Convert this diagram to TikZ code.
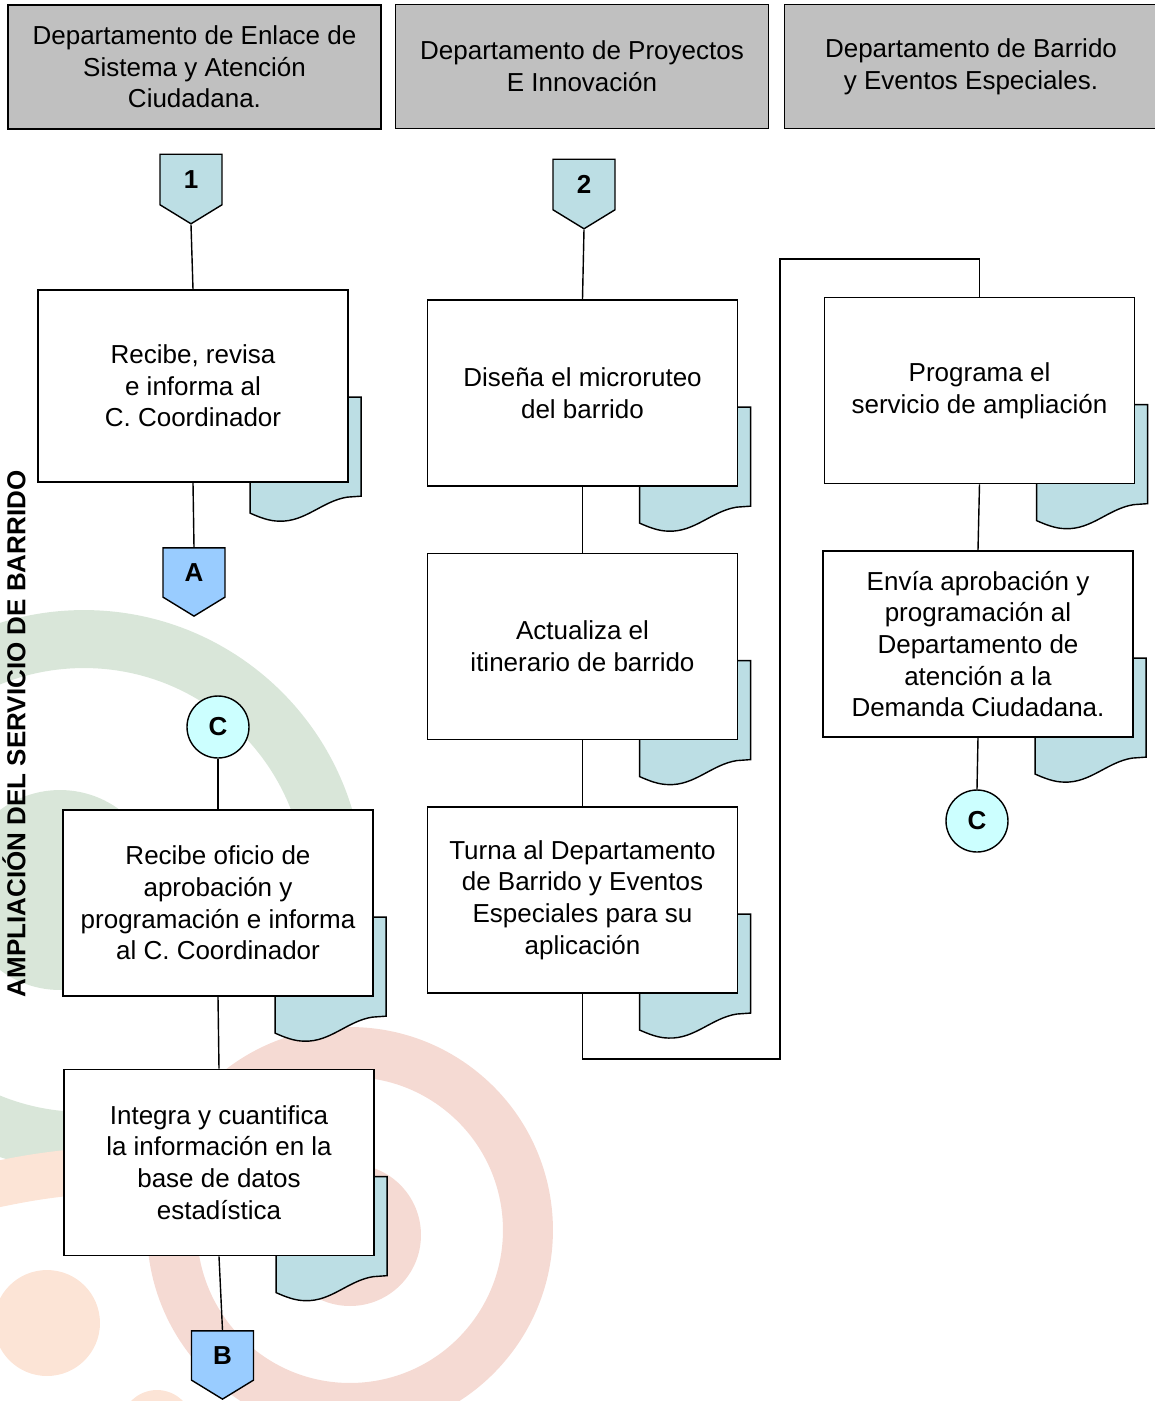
\documentclass[tikz,border=0pt]{standalone}
\usepackage{fontspec}
\setmainfont{Liberation Sans}
\usepackage{tikz}
\usetikzlibrary{shapes.symbols}
\definecolor{docblue}{RGB}{188,222,228}
\definecolor{hdgray}{RGB}{192,192,192}
\definecolor{offblue}{RGB}{153,204,255}
\definecolor{oncyan}{RGB}{204,255,255}
\definecolor{wmgreen}{RGB}{217,230,217}
\definecolor{wmpink}{RGB}{245,218,211}
\definecolor{wmpeach}{RGB}{252,228,214}
\newcommand{\bodysize}{\fontsize{14.8pt}{18pt}\selectfont}
\pgfdeclarelayer{watermark}
\pgfdeclarelayer{sheets}
\pgfsetlayers{watermark,sheets,main}
\tikzstyle{dept} = [rectangle, minimum width=7.46cm, minimum
height=2.48cm, align=center, draw=black, fill=hdgray, line width=0.9pt, font=\bodysize]
\tikzstyle{task} = [rectangle, minimum width=6.2cm, minimum
height=3.72cm, align=center, draw=black, fill=white, line width=1pt, font=\bodysize]
\tikzstyle{offpage} = [signal, signal to=south, signal pointer angle=117,
minimum width=1.24cm, minimum height=1.1cm, inner sep=0pt, draw=black,
line width=0.8pt, font=\bodysize\bfseries]
\tikzstyle{onpage} = [circle, minimum size=1.24cm, inner sep=0pt, draw=black,
fill=oncyan, line width=0.8pt, font=\bodysize\bfseries]
\tikzstyle{line} = [draw=black, line width=0.8pt]
\tikzstyle{sheet} = [draw=black, fill=docblue, line width=0.8pt]
\newcommand{\docsheet}[1]{%
\begin{pgfonlayer}{sheets}
\begin{scope}[shift={(#1.north west)}]
\draw[sheet] (213,108) -- (324,108) -- (324,207) -- (310,208) .. controls
(285,212) and (268,233) .. (242,232) .. controls (232,232) and (222,228) ..
(213,224) -- cycle;
\end{scope}
\end{pgfonlayer}}

\begin{document}
\begin{tikzpicture}[x=0.02cm, y=-0.02cm, node distance=5.07cm]
\useasboundingbox (0,0) rectangle (1154,1401);

\begin{pgfonlayer}{watermark}
\draw[wmgreen, line width=1.16cm] ([shift={(0:5.02cm)}]84,890) arc[start
angle=0, end angle=300, radius=5.02cm];
\fill[wmgreen] (60,890) circle[radius=2cm];
\draw[wmpeach, line width=0.92cm] (-40,1192) .. controls (40,1175) .. (150,1165);
\fill[wmpeach] (47,1323) circle[radius=1.06cm];
\fill[wmpeach] (157,1426) circle[radius=0.72cm];
\draw[wmpink, line width=1cm] ([shift={(140:3.56cm)}]350,1230) arc[start
angle=140, end angle=-190, radius=3.56cm];
\fill[wmpink] (350,1235) circle[radius=1.42cm];
\end{pgfonlayer}

\node(title)[rotate=90, font=\bodysize\bfseries] at (14,734)
{AMPLIACIÓN DEL SERVICIO DE BARRIDO};

\node(hdEnlace)[dept] at (194.5,67) {Departamento de Enlace de\\Sistema y
Atención\\Ciudadana.};
\node(hdProy)[dept] at (582,66.5) {Departamento de Proyectos\\E Innovación};
\node(hdBarr)[dept] at (971,66.5) {Departamento de Barrido\\y Eventos Especiales.};

\node(c1)[offpage, fill=docblue] at (191,179.5) {1};
\node(pRecibe)[task, minimum height=3.84cm] at (193,386) {Recibe, revisa\\e
informa al\\C. Coordinador};
\node(cA)[offpage, fill=offblue] at (194,572.5) {A};

\node(c2)[offpage, fill=docblue] at (584,184.5) {2};
\node(pDisena)[task] at (582.5,393) {Diseña el microruteo\\del barrido};
\node(pActualiza)[task, below of=pDisena] {Actualiza el\\itinerario de barrido};
\node(pTurna)[task, below of=pActualiza] {Turna al Departamento\\de Barrido y
Eventos\\Especiales para su\\aplicación};

\node(pPrograma)[task] at (979.5,390.5) {Programa el\\servicio de ampliación};
\node(pEnvia)[task, below of=pPrograma, xshift=-0.03cm] {Envía aprobación
y\\programación al\\Departamento de\\atención a la\\Demanda Ciudadana.};
\node(cC2)[onpage] at (977,821) {C};

\node(cC1)[onpage] at (218,727) {C};
\node(pOficio)[task] at (218,903) {Recibe oficio de\\aprobación
y\\programación e informa\\al C. Coordinador};
\node(pIntegra)[task] at (219,1162.5) {Integra y cuantifica\\la información en
la\\base de datos\\estadística};
\node(cB)[offpage, fill=offblue] at (222.5,1355.5) {B};

\coordinate(loopA) at (780,1059);
\coordinate(loopB) at (780,259);

\docsheet{pRecibe}
\docsheet{pDisena}
\docsheet{pActualiza}
\docsheet{pTurna}
\docsheet{pPrograma}
\docsheet{pEnvia}
\docsheet{pOficio}
\docsheet{pIntegra}

\draw[line](c1.south) -- (pRecibe.north);
\draw[line](pRecibe.south) -- (cA.north);
\draw[line](c2.south) -- (pDisena.north);
\draw[line](pDisena) -- (pActualiza);
\draw[line](pActualiza) -- (pTurna);
\draw[line](pTurna.south) |- (loopA) -- (loopB) -| (pPrograma.north);
\draw[line](pPrograma.south) -- (pEnvia.north);
\draw[line](pEnvia.south) -- (cC2.north);
\draw[line](cC1.south) -- (pOficio.north);
\draw[line](pOficio.south) -- (pIntegra.north);
\draw[line](pIntegra.south) -- (cB.north);

\end{tikzpicture}
\end{document}
